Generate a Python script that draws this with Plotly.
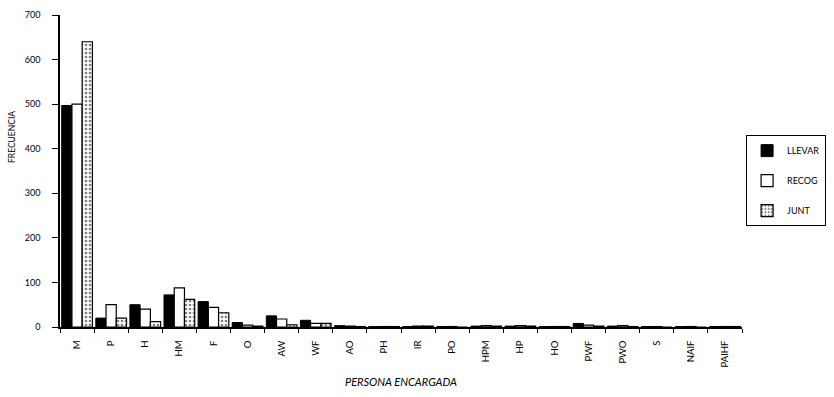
import plotly.graph_objects as go

# Persona encargada de llevar / recoger al niño
categorias = ["M", "P", "H", "HM", "F", "O", "AW", "WF", "AO", "PH",
              "IR", "PO", "HPM", "HP", "HO", "PWF", "PWO", "S", "NAIF", "PAIHF"]
llevar = [497, 20, 50, 72, 57, 10, 25, 15, 3, 1, 1, 1, 2, 2, 1, 8, 2, 1, 1, 1]
recog = [500, 50, 40, 88, 44, 4, 18, 8, 2, 1, 2, 1, 3, 3, 1, 4, 3, 1, 1, 1]
junt = [640, 20, 12, 62, 32, 2, 5, 8, 1, 1, 2, 0, 2, 2, 1, 2, 1, 0, 0, 1]
y_ticks = [0, 100, 200, 300, 400, 500, 600, 700]

FONT = "Lato"

fig = go.Figure()
fig.add_trace(go.Bar(
    name="LLEVAR", x=categorias, y=llevar, legendgroup="a",
    marker=dict(color="black", line=dict(color="black", width=1)),
))
fig.add_trace(go.Bar(
    name="RECOG", x=categorias, y=recog, legendgroup="b",
    marker=dict(color="white", line=dict(color="black", width=1.2)),
))
fig.add_trace(go.Bar(
    name="JUNT", x=categorias, y=junt, legendgroup="c",
    marker=dict(color="white", line=dict(color="black", width=1.2),
                pattern=dict(shape=".", fgcolor="black", bgcolor="white",
                             size=4, solidity=0.35)),
))

fig.update_layout(
    width=834, height=397,
    margin=dict(l=60, r=92, t=15, b=70, autoexpand=False),
    paper_bgcolor="white", plot_bgcolor="white",
    barmode="group", bargap=0.1, bargroupgap=0,
    font=dict(family=FONT, color="black", size=9),
    showlegend=True,
    legend=dict(
        x=1.006, xanchor="left", y=0.615, yanchor="top",
        bordercolor="black", borderwidth=1, bgcolor="white",
        font=dict(family=FONT, size=9, color="black"),
        itemwidth=30, tracegroupgap=11,
    ),
    xaxis=dict(
        type="category", range=[-0.5, 19.5], automargin=False,
        showline=True, linecolor="black", linewidth=1.5,
        ticks="outside", tickson="boundaries", ticklen=4, tickcolor="black",
        tickangle=-90, tickfont=dict(family=FONT, size=9.5),
        ticklabelstandoff=8,
        showgrid=False, zeroline=False,
        title=dict(text="<i>PERSONA ENCARGADA</i>",
                   font=dict(family=FONT, size=11), standoff=12),
    ),
    yaxis=dict(
        range=[0, 700], tickvals=y_ticks, automargin=False,
        showline=True, linecolor="black", linewidth=1.5,
        ticks="outside", ticklen=6, tickcolor="black",
        tickfont=dict(family=FONT, size=9),
        ticklabelstandoff=10,
        showgrid=False, zeroline=False,
    ),
    annotations=[dict(
        text="FRECUENCIA", textangle=-90, showarrow=False,
        xref="paper", yref="paper", x=-0.0704, y=0.609,
        xanchor="center", yanchor="middle",
        font=dict(family=FONT, size=8.5, color="black"),
    )],
)

fig.write_html("out.html")
